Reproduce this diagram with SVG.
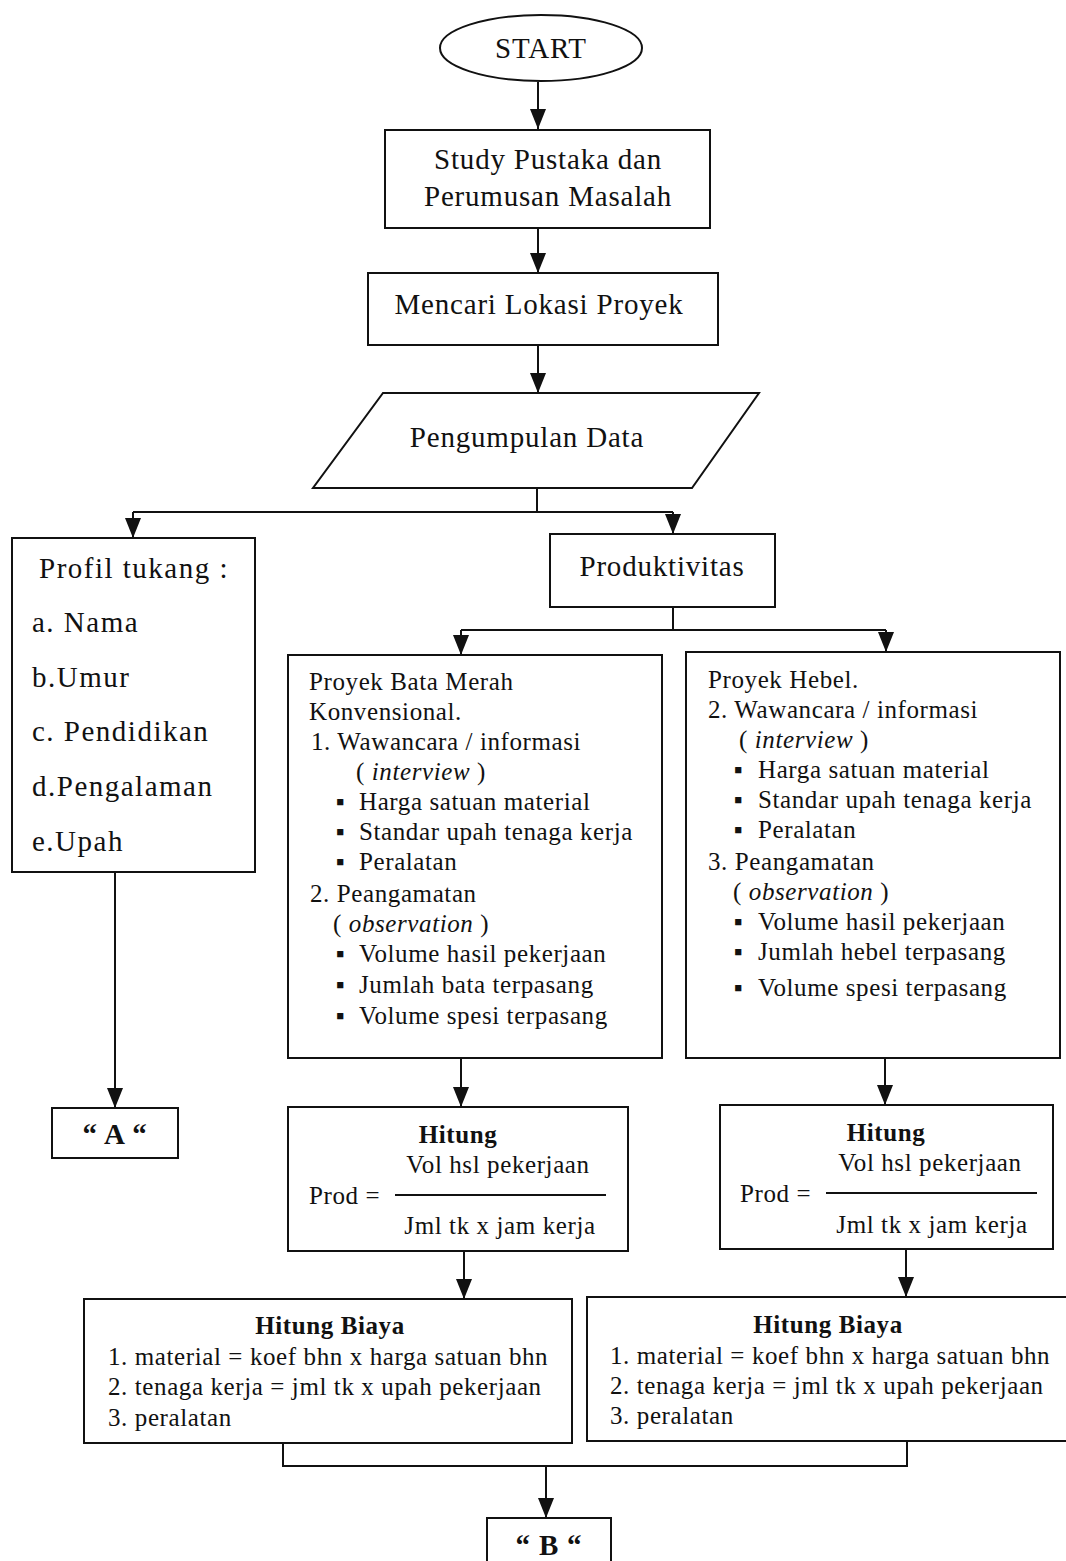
<svg xmlns="http://www.w3.org/2000/svg" width="1066" height="1561" viewBox="0 0 1066 1561">
<style>
text{font-family:"Liberation Serif","Times New Roman",serif;fill:#111}
.n{fill:#fff;stroke:#111;stroke-width:2}
.big{font-size:29px;letter-spacing:0.8px}
.pf{font-size:29px;letter-spacing:1.5px}
.mid{font-size:25px;letter-spacing:0.6px}
.b{font-weight:bold}
.c{text-anchor:middle}
.i{font-style:italic}
.ln{fill:none;stroke:#111;stroke-width:2}
</style>
<defs>
<marker id="ad" markerUnits="userSpaceOnUse" markerWidth="20" markerHeight="16" refX="20" refY="8" orient="auto" viewBox="0 0 20 16">
<path d="M0,0 L20,8 L0,16 Z" fill="#111"/>
</marker>
</defs>
<g id="connectors">
<line class="ln" x1="538" y1="82" x2="538" y2="129" marker-end="url(#ad)"/>
<line class="ln" x1="538" y1="228" x2="538" y2="273" marker-end="url(#ad)"/>
<line class="ln" x1="538" y1="345" x2="538" y2="393" marker-end="url(#ad)"/>
<polyline class="ln" points="537,488 537,512"/>
<polyline class="ln" points="133,512 673,512"/>
<line class="ln" x1="133" y1="512" x2="133" y2="538" marker-end="url(#ad)"/>
<line class="ln" x1="673" y1="512" x2="673" y2="534" marker-end="url(#ad)"/>
<polyline class="ln" points="673,607 673,630"/>
<polyline class="ln" points="461,630 886,630"/>
<line class="ln" x1="461" y1="630" x2="461" y2="655" marker-end="url(#ad)"/>
<line class="ln" x1="886" y1="630" x2="886" y2="652" marker-end="url(#ad)"/>
<line class="ln" x1="115" y1="872" x2="115" y2="1108" marker-end="url(#ad)"/>
<line class="ln" x1="461" y1="1058" x2="461" y2="1107" marker-end="url(#ad)"/>
<line class="ln" x1="885" y1="1058" x2="885" y2="1105" marker-end="url(#ad)"/>
<line class="ln" x1="464" y1="1251" x2="464" y2="1299" marker-end="url(#ad)"/>
<line class="ln" x1="906" y1="1249" x2="906" y2="1297" marker-end="url(#ad)"/>
<polyline class="ln" points="283,1443 283,1466 907,1466 907,1441"/>
<line class="ln" x1="546" y1="1466" x2="546" y2="1518" marker-end="url(#ad)"/>
</g>
<g id="start">
<ellipse class="n" cx="541" cy="48" rx="101" ry="33"/>
<text class="big c" x="541" y="58">START</text>
</g>
<g id="study">
<rect class="n" x="385" y="130" width="325" height="98"/>
<text class="big c" x="548" y="169">Study Pustaka dan</text>
<text class="big c" x="548" y="206">Perumusan Masalah</text>
</g>
<g id="lokasi">
<rect class="n" x="368" y="273" width="350" height="72"/>
<text class="big c" x="539" y="314">Mencari Lokasi Proyek</text>
</g>
<g id="pengumpulan">
<polygon class="n" points="383,393 759,393 692,488 313,488"/>
<text class="big c" x="527" y="447">Pengumpulan Data</text>
</g>
<g id="profil">
<rect class="n" x="12" y="538" width="243" height="334"/>
<text class="pf" x="39" y="578">Profil tukang :</text>
<text class="pf" x="32" y="632">a. Nama</text>
<text class="pf" x="32" y="687">b.Umur</text>
<text class="pf" x="32" y="741">c. Pendidikan</text>
<text class="pf" x="32" y="796">d.Pengalaman</text>
<text class="pf" x="32" y="851">e.Upah</text>
</g>
<g id="produktivitas">
<rect class="n" x="550" y="534" width="225" height="73"/>
<text class="big c" x="662" y="576">Produktivitas</text>
</g>
<g id="batamerah">
<rect class="n" x="288" y="655" width="374" height="403"/>
<text class="mid" x="309" y="690">Proyek Bata Merah</text>
<text class="mid" x="309" y="720">Konvensional.</text>
<text class="mid" x="311" y="750">1.  Wawancara / informasi</text>
<text class="mid" x="356" y="780">( <tspan class="i">interview</tspan> )</text>
<text class="mid" x="336" y="810">▪</text><text class="mid" x="359" y="810">Harga satuan material</text>
<text class="mid" x="336" y="840">▪</text><text class="mid" x="359" y="840">Standar upah tenaga kerja</text>
<text class="mid" x="336" y="870">▪</text><text class="mid" x="359" y="870">Peralatan</text>
<text class="mid" x="310" y="902">2.  Peangamatan</text>
<text class="mid" x="333" y="932">( <tspan class="i">observation</tspan> )</text>
<text class="mid" x="336" y="962">▪</text><text class="mid" x="359" y="962">Volume hasil pekerjaan</text>
<text class="mid" x="336" y="993">▪</text><text class="mid" x="359" y="993">Jumlah bata terpasang</text>
<text class="mid" x="336" y="1024">▪</text><text class="mid" x="359" y="1024">Volume spesi terpasang</text>
</g>
<g id="hebel">
<rect class="n" x="686" y="652" width="374" height="406"/>
<text class="mid" x="708" y="688">Proyek Hebel.</text>
<text class="mid" x="708" y="718">2. Wawancara / informasi</text>
<text class="mid" x="739" y="748">( <tspan class="i">interview</tspan> )</text>
<text class="mid" x="734" y="778">▪</text><text class="mid" x="758" y="778">Harga satuan material</text>
<text class="mid" x="734" y="808">▪</text><text class="mid" x="758" y="808">Standar upah tenaga kerja</text>
<text class="mid" x="734" y="838">▪</text><text class="mid" x="758" y="838">Peralatan</text>
<text class="mid" x="708" y="870">3. Peangamatan</text>
<text class="mid" x="733" y="900">( <tspan class="i">observation</tspan> )</text>
<text class="mid" x="734" y="930">▪</text><text class="mid" x="758" y="930">Volume hasil pekerjaan</text>
<text class="mid" x="734" y="960">▪</text><text class="mid" x="758" y="960">Jumlah hebel terpasang</text>
<text class="mid" x="734" y="996">▪</text><text class="mid" x="758" y="996">Volume spesi terpasang</text>
</g>
<g id="a">
<rect class="n" x="52" y="1108" width="126" height="50"/>
<text class="big b c" x="115" y="1144">“ A “</text>
</g>
<g id="hitung1">
<rect class="n" x="288" y="1107" width="340" height="144"/>
<text class="mid b c" x="458" y="1143">Hitung</text>
<text class="mid c" x="498" y="1173">Vol hsl pekerjaan</text>
<line class="ln" x1="395" y1="1195" x2="606" y2="1195"/>
<text class="mid" x="309" y="1204">Prod =</text>
<text class="mid c" x="500" y="1234">Jml tk x jam kerja</text>
</g>
<g id="hitung2">
<rect class="n" x="720" y="1105" width="333" height="144"/>
<text class="mid b c" x="886" y="1141">Hitung</text>
<text class="mid c" x="930" y="1171">Vol hsl pekerjaan</text>
<line class="ln" x1="826" y1="1193" x2="1037" y2="1193"/>
<text class="mid" x="740" y="1202">Prod =</text>
<text class="mid c" x="932" y="1233">Jml tk x jam kerja</text>
</g>
<g id="biaya1">
<rect class="n" x="84" y="1299" width="488" height="144"/>
<text class="mid b c" x="330" y="1334">Hitung Biaya</text>
<text class="mid" x="108" y="1365">1. material = koef bhn x harga satuan bhn</text>
<text class="mid" x="108" y="1395">2. tenaga kerja = jml tk x upah pekerjaan</text>
<text class="mid" x="108" y="1426">3. peralatan</text>
</g>
<g id="biaya2">
<rect class="n" x="587" y="1297" width="490" height="144"/>
<text class="mid b c" x="828" y="1333">Hitung Biaya</text>
<text class="mid" x="610" y="1364">1. material = koef bhn x harga satuan bhn</text>
<text class="mid" x="610" y="1394">2. tenaga kerja = jml tk x upah pekerjaan</text>
<text class="mid" x="610" y="1424">3. peralatan</text>
</g>
<g id="b">
<rect class="n" x="487" y="1518" width="124" height="52"/>
<text class="big b c" x="549" y="1555">“ B “</text>
</g>
</svg>
